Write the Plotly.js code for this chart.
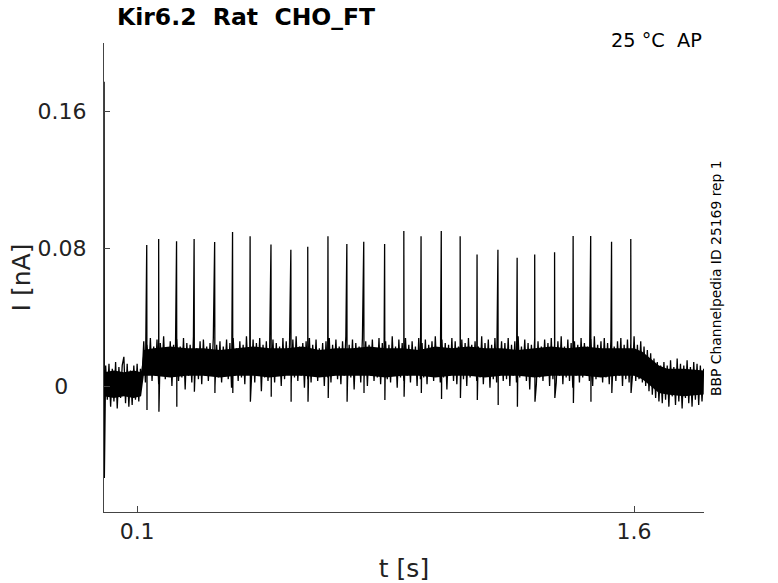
<!DOCTYPE html>
<html>
<head>
<meta charset="utf-8">
<script src="https://cdn.plot.ly/plotly-3.0.1.min.js"></script>
<style>html,body{margin:0;padding:0;background:#fff;}#chart{width:778px;height:583px;}</style>
</head>
<body>
<div id="chart"></div>
<script>
// Sampled current trace (pA), sample interval in seconds
const sampleInterval = 0.005;
// t = 0 .. 0.110 s (before the step)
const noiseBefore_pA = [-11, 12, -8, 13, -12, 10, -9, 14, -13, 11, -7, 12, 17, -10, 13, -12, 9, -11, 12, -8, 13, -9, 10];
// t = 0.115 .. 1.605 s (during the stimulus)
const noiseDuring_pA = [
  5, 26, 2, 24, 7, 28, 3, 23, 6, 27, 1, 25, 8, 29, 4, 22, 6, 26, 0, 24,
  7, 27, 3, 23, 5, 28, -2, 25, 6, 24, 2, 29, 8, 22, 4, 26, 1, 27, 6, 23,
  3, 25, 7, 28, 0, 24, 5, 26, 2, 23, 8, 27, 4, 25, -1, 28, 6, 22, 3, 26,
  5, 24, 1, 29, 7, 23, 4, 27, 2, 25, 6, 28, -3, 24, 5, 26, 3, 22, 7, 27,
  2, 25, 6, 23, 0, 28, 4, 26, 7, 24, 1, 27, 5, 29, 3, 23, 6, 25, -1, 26,
  4, 28, 2, 24, 6, 27, 3, 22, 8, 25, 0, 26, 5, 28, 2, 24, 7, 27, 4, 23,
  1, 26, 6, 29, 3, 24, 5, 27, -2, 25, 7, 23, 2, 28, 4, 26, 0, 24, 6, 27,
  3, 22, 5, 28, 1, 25, 7, 26, 4, 24, 2, 29, 6, 23, -1, 27, 5, 25, 3, 28,
  6, 24, 2, 26, 7, 23, 0, 28, 4, 25, 5, 27, 1, 24, 8, 26, 3, 29, 6, 22,
  2, 27, 5, 25, -2, 24, 6, 28, 3, 26, 1, 23, 7, 27, 4, 25, 0, 28, 5, 24,
  7, 26, 3, 23, 5, 29, 1, 25, 6, 27, -1, 24, 4, 28, 2, 22, 7, 26, 3, 25,
  4, 28, 0, 24, 6, 26, 2, 29, 5, 23, 7, 27, 3, 25, -2, 24, 6, 28, 1, 26,
  5, 23, 3, 27, 7, 25, 0, 28, 4, 24, 2, 26, 6, 29, 1, 23, 5, 27, 3, 25,
  -1, 26, 6, 24, 2, 28, 5, 25, 7, 23, 3, 27, 0, 29, 4, 24, 6, 26, 2, 28,
  5, 25, 1, 27, 7, 23, 3, 26, 6, 28, 0, 24, 4, 27, 2, 25, 6, 29, 3
];
// t = 1.610 .. 1.680 s (decay)
const noiseDecay_pA = [24, 4, 26, 2, 23, 0, 21, -3, 19, -5, 16, -7, 14, -9, 12];
// t = 1.685 .. 1.810 s (after)
const noiseAfter_pA = [-10, 14, -8, 12, -12, 15, -6, 11, -11, 16, -9, 13, -13, 12, -7, 15, -10, 11, -12, 14, -8, 13, -11, 12, -9, 10];

// Dense-noise core of the recording (solid black band): times (s) and bounds (pA)
const envTimes = [0, 0.03, 0.06, 0.09, 0.112, 0.12,
  0.15, 0.20, 0.25, 0.30, 0.35, 0.40, 0.45, 0.50, 0.55, 0.60, 0.65, 0.70, 0.75, 0.80,
  0.85, 0.90, 0.95, 1.00, 1.05, 1.10, 1.15, 1.20, 1.25, 1.30, 1.35, 1.40, 1.45, 1.50, 1.55, 1.60,
  1.625, 1.65, 1.675, 1.70, 1.75, 1.81];
const envUpper_pA = [8, 9, 8, 9, 8, 21,
  22, 23, 22, 22, 21, 22, 23, 22, 22, 23, 21, 22, 22, 23,
  22, 22, 21, 23, 22, 23, 22, 22, 21, 22, 23, 22, 23, 22, 22, 22,
  20, 16, 12, 10, 10, 9];
const envLower_pA = [-6, -7, -6, -7, -6, 6,
  6, 5, 6, 6, 5, 6, 6, 5, 6, 6, 5, 6, 6, 6,
  5, 6, 6, 5, 6, 6, 5, 6, 6, 5, 6, 6, 6, 5, 6, 6,
  4, 0, -4, -5, -6, -5];

// Transients (s, nA): first is the onset artefact
const spikeTimes = [0.0003, 0.129, 0.165, 0.219, 0.272, 0.334, 0.388, 0.441, 0.504, 0.564, 0.615, 0.676, 0.733, 0.784, 0.847, 0.905, 0.957, 1.018, 1.075, 1.126, 1.189, 1.247, 1.300, 1.360, 1.416, 1.469, 1.532, 1.590];
const spikePeaks = [0.177, 0.0820, 0.0855, 0.0842, 0.0855, 0.0838, 0.0896, 0.0871, 0.0824, 0.0793, 0.0810, 0.0871, 0.0826, 0.0840, 0.0826, 0.0902, 0.0871, 0.0902, 0.0871, 0.0766, 0.0793, 0.0746, 0.0766, 0.0778, 0.0873, 0.0873, 0.0840, 0.0855];
const spikeTroughs = [-0.0535, -0.0140, -0.0150, -0.0120, -0.0033, -0.0041, -0.0041, -0.0091, -0.0062, -0.0091, -0.0091, -0.0070, -0.0091, -0.0041, -0.0081, -0.0062, -0.0041, -0.0076, -0.0070, -0.0081, -0.0111, -0.0120, -0.0091, -0.0070, -0.0099, -0.0091, -0.0041, -0.0041];

const xTickVals = [0.1, 1.6];
const xTickText = ['0.1', '1.6'];
const yTickVals = [0, 0.08, 0.16];
// labels are centred in the reference; the short one is padded with a figure space + thin space
const yTickText = ['0\u2007\u2009', '0.08', '0.16'];

// build the trace
const samples_pA = [].concat(noiseBefore_pA, noiseDuring_pA, noiseDecay_pA, noiseAfter_pA);
const pts = samples_pA.map((v, i) => [i * sampleInterval, v / 1000]);
spikeTimes.forEach((t, k) => {
  pts.push([t, spikePeaks[k]]);
  pts.push([t + 0.0008, spikeTroughs[k]]);
});
pts.sort((a, b) => a[0] - b[0]);

const FONT = 'DejaVu Sans, Liberation Sans, sans-serif';
const bandLower = {
  type: 'scatter', mode: 'lines', x: envTimes, y: envLower_pA.map(v => v / 1000),
  line: {color: '#000', width: 0}, hoverinfo: 'skip', showlegend: false
};
const bandUpper = {
  type: 'scatter', mode: 'lines', x: envTimes, y: envUpper_pA.map(v => v / 1000),
  line: {color: '#000', width: 0}, fill: 'tonexty', fillcolor: '#000',
  hoverinfo: 'skip', showlegend: false
};
const trace = {
  type: 'scatter', mode: 'lines',
  x: pts.map(p => p[0]), y: pts.map(p => p[1]),
  line: {color: '#000', width: 1.3, simplify: false},
  hoverinfo: 'skip', showlegend: false
};

const layout = {
  width: 778, height: 583,
  paper_bgcolor: '#fff', plot_bgcolor: '#fff',
  margin: {l: 104, r: 74, t: 43, b: 71, autoexpand: false},
  font: {family: FONT, color: '#222'},
  showlegend: false,
  title: {
    text: '<b>Kir6.2  Rat  CHO_FT</b>',
    font: {family: FONT, size: 23.5, color: '#000'},
    xref: 'container', x: 117 / 778, xanchor: 'left',
    yref: 'container', y: 1 - 17 / 583, yanchor: 'middle'
  },
  xaxis: {
    range: [0, 1.811], tickvals: xTickVals, ticktext: xTickText,
    ticks: 'inside', ticklen: 6, tickcolor: '#444', tickwidth: 1,
    showline: true, linecolor: '#444', linewidth: 1,
    showgrid: false, zeroline: false, automargin: false,
    tickfont: {family: FONT, size: 22, color: '#222'},
    title: {text: 't [s]', font: {family: FONT, size: 25, color: '#222'}}
  },
  yaxis: {
    range: [-0.0733, 0.1996], tickvals: yTickVals, ticktext: yTickText,
    ticks: 'inside', ticklen: 6, tickcolor: '#444', tickwidth: 1,
    showline: true, linecolor: '#444', linewidth: 1,
    showgrid: false, zeroline: false, automargin: false,
    tickfont: {family: FONT, size: 22, color: '#222'},
    ticklabelstandoff: 12,
    title: {text: 'I [nA]', font: {family: FONT, size: 25, color: '#222'}}
  },
  annotations: [
    {text: '25 °C  AP', xref: 'paper', yref: 'paper', x: 1, y: (512 - 40.5) / 469,
     xanchor: 'right', yanchor: 'middle', showarrow: false,
     font: {family: FONT, size: 19.3, color: '#000'}},
    {text: 'BBP Channelpedia ID 25169 rep 1', xref: 'paper', yref: 'paper',
     x: (716 - 104) / 600, y: (512 - 278) / 469, xanchor: 'center', yanchor: 'middle',
     textangle: -90, showarrow: false,
     font: {family: FONT, size: 13.9, color: '#000'}}
  ]
};

Plotly.newPlot('chart', [bandLower, bandUpper, trace], layout, {staticPlot: true, displayModeBar: false});
</script>
</body>
</html>
